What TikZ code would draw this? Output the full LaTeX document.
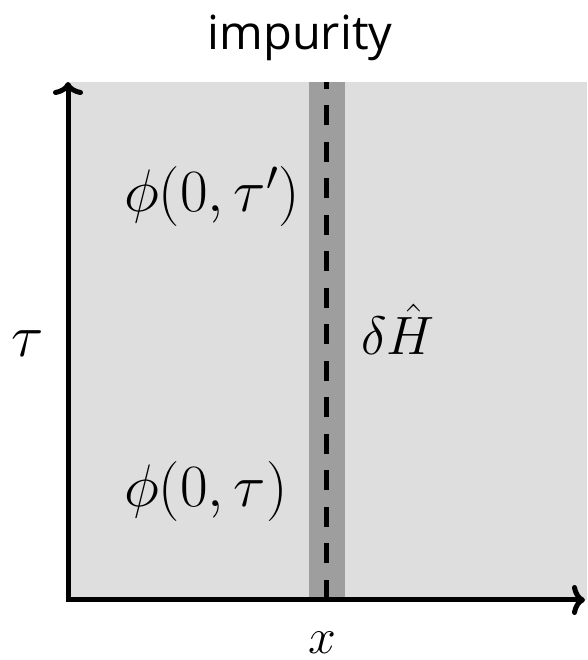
\documentclass[tikz,border=0pt]{standalone}
\usepackage{fix-cm}
\usepackage{amsmath,amssymb}
\usepackage{fontspec}
\usepackage{xcolor}
\usepackage{tikz}
\usetikzlibrary{arrows.meta}
\newfontfamily\impurityfont{Open Sans}
\definecolor{bulkGray}{RGB}{222,222,222}
\definecolor{stripGray}{RGB}{158,158,158}

\begin{document}
\begin{tikzpicture}[x=1pt,y=1pt,
  mlabel/.style={inner sep=0pt, font=\fontsize{60}{66}\selectfont}]
\useasboundingbox (-68,-60) rectangle (519,600);
\coordinate (O) at (0,0);

% bulk and impurity strip
\fill[bulkGray] (O) rectangle (519,518);
\fill[stripGray] (241,0) rectangle (277,518);
\draw[black, line width=5pt, dash pattern=on 20pt off 16.5pt] (258,0)--(258,518);

% axes
\draw[black, line width=5pt, line join=miter, {To[length=13pt,width=30pt]}-{To[length=13pt,width=30pt]}]
  (0,518) |- (517,0);

\node[mlabel, anchor=base west] (phiTop) at (56,388) {$\phi(0,\tau')$};
\node[mlabel, anchor=base west, font=\fontsize{54}{60}\selectfont] (deltaH) at (293,245) {$\delta\hat{H}$};
\node[mlabel, anchor=base west] (phiBot) at (56,93) {$\phi(0,\tau)$};
\node[mlabel, anchor=base] (tauLabel) at (-40,243) {$\tau$};
\node[mlabel, anchor=base, font=\fontsize{50}{55}\selectfont] (xLabel) at (254,-53) {$x$};
\node[inner sep=0pt, anchor=base, font=\impurityfont\fontsize{47}{50}\selectfont] (impurity) at (232,550) {impurity};
\end{tikzpicture}
\end{document}
